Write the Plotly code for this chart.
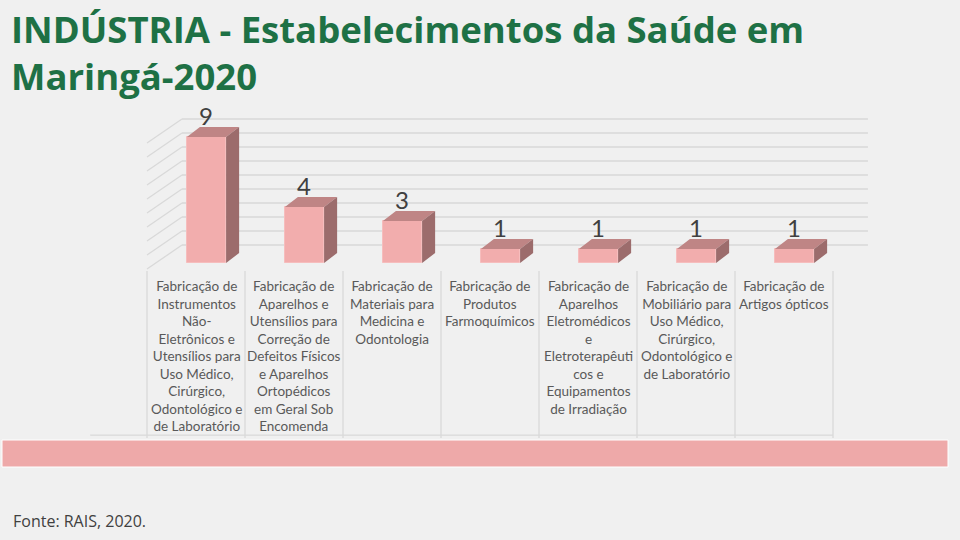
import plotly.graph_objects as go

# data
categories = [
    "Fabricação de<br>Instrumentos<br>Não-<br>Eletrônicos e<br>Utensílios para<br>Uso Médico,<br>Cirúrgico,<br>Odontológico e<br>de Laboratório",
    "Fabricação de<br>Aparelhos e<br>Utensílios para<br>Correção de<br>Defeitos Físicos<br>e Aparelhos<br>Ortopédicos<br>em Geral Sob<br>Encomenda",
    "Fabricação de<br>Materiais para<br>Medicina e<br>Odontologia",
    "Fabricação de<br>Produtos<br>Farmoquímicos",
    "Fabricação de<br>Aparelhos<br>Eletromédicos<br>e<br>Eletroterapêuti<br>cos e<br>Equipamentos<br>de Irradiação",
    "Fabricação de<br>Mobiliário para<br>Uso Médico,<br>Cirúrgico,<br>Odontológico e<br>de Laboratório",
    "Fabricação de<br>Artigos ópticos",
]
values = [9, 4, 3, 1, 1, 1, 1]
grid_values = list(range(0, 10))

title = "INDÚSTRIA - Estabelecimentos da Saúde em<br>Maringá-2020"
source = "Fonte: RAIS, 2020."

# fake 3d geometry (x in category units, y in value units)
bar_off = 0.107      # front face centre offset inside the category
bar_w = 0.40
bdx, bdy = 0.133, 0.714    # bar depth
fdx, fdy = 0.357, 1.714    # floor depth
floor_front = -0.43
n = len(categories)

FRONT = "#F2ADAD"
TOP = "#BF8585"
SIDE = "#9C6C6C"
GRID = "#D9D9D9"

fig = go.Figure()

# back wall gridlines + left wall diagonals
for v in grid_values:
    yb = v + floor_front + fdy
    fig.add_shape(type="line", x0=-0.5 + fdx, x1=n - 0.5 + fdx, y0=yb, y1=yb,
                  line=dict(color=GRID, width=1.3), layer="below")
    fig.add_shape(type="line", x0=-0.5, x1=-0.5 + fdx, y0=v + floor_front, y1=yb,
                  line=dict(color=GRID, width=1.3), layer="below")

# front faces
xs = [i + bar_off for i in range(n)]
fig.add_trace(go.Bar(x=xs, y=values, width=bar_w, marker_color=FRONT,
                     marker_line=dict(color="#F6BDBD", width=1), hoverinfo="skip"))

# top and side faces
tx, ty, sx, sy = [], [], [], []
for x, v in zip(xs, values):
    x0, x1 = x - bar_w / 2, x + bar_w / 2
    tx += [x0, x1, x1 + bdx, x0 + bdx, x0, None]
    ty += [v, v, v + bdy, v + bdy, v, None]
    sx += [x1, x1 + bdx, x1 + bdx, x1, x1, None]
    sy += [0, bdy, v + bdy, v, 0, None]
fig.add_trace(go.Scatter(x=tx, y=ty, fill="toself", fillcolor=TOP, mode="lines",
                         line=dict(width=0, color=TOP), hoverinfo="skip"))
fig.add_trace(go.Scatter(x=sx, y=sy, fill="toself", fillcolor=SIDE, mode="lines",
                         line=dict(width=0, color=SIDE), hoverinfo="skip"))

# data labels
for x, v in zip(xs, values):
    fig.add_annotation(x=x, y=v + bdy, text=str(v), showarrow=False, yanchor="bottom",
                       yshift=-5, font=dict(family="Lato", size=24, color="#404040"))

# category table
for i in range(n + 1):
    fig.add_shape(type="line", x0=i - 0.5, x1=i - 0.5, y0=-0.57, y1=-12.5,
                  line=dict(color=GRID, width=1.3), layer="below")
fig.add_shape(type="line", x0=-1.08, x1=n - 0.5, y0=-12.29, y1=-12.29,
              line=dict(color=GRID, width=1.3), layer="below")
for i, c in enumerate(categories):
    fig.add_annotation(x=i, y=-0.95, text=c, showarrow=False, yanchor="top",
                       align="center", font=dict(family="Lato", size=13.5, color="#595959"))

# pink band
fig.add_shape(type="rect", xref="paper", yref="paper", x0=2 / 960, x1=948 / 960,
              y0=1 - 467 / 540, y1=1 - 440 / 540, fillcolor="#EEA9A9",
              line=dict(color="white", width=1))

fig.add_annotation(xref="paper", yref="paper", x=9 / 960, y=1 - 53 / 540,
                   text=title, showarrow=False, xanchor="left", yanchor="middle", align="left",
                   font=dict(family="Open Sans", size=36.5, color="#1E7145", weight="bold"))
fig.add_annotation(xref="paper", yref="paper", x=11 / 960, y=1 - 521 / 540, text=source,
                   showarrow=False, xanchor="left", yanchor="middle",
                   font=dict(family="Open Sans", size=16, color="#404040"))

fig.update_layout(
    width=960, height=540, autosize=False,
    margin=dict(l=0, r=0, t=0, b=0),
    paper_bgcolor="#F0F0F0", plot_bgcolor="#F0F0F0",
    showlegend=False, bargap=0,
    xaxis=dict(range=[-2.0, -2.0 + 960 / 98], visible=False, fixedrange=True),
    yaxis=dict(range=[-(540 - 263) / 14, 263 / 14], visible=False, fixedrange=True),
)

fig.write_html("out.html", config={"displayModeBar": False},
               post_script="document.body.style.margin='0';")
